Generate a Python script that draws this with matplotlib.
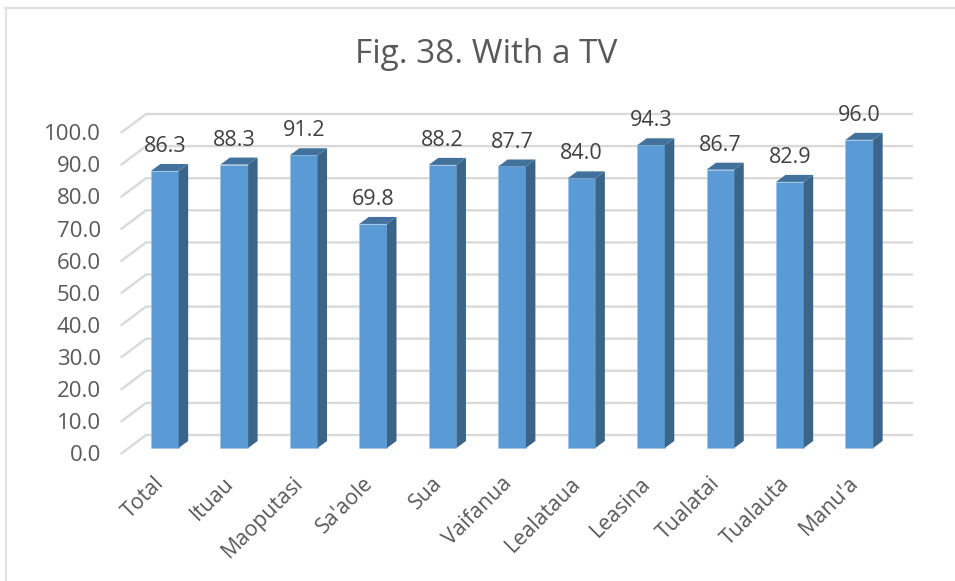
import matplotlib
matplotlib.use("Agg")
import matplotlib.pyplot as plt
from matplotlib.lines import Line2D
from matplotlib.transforms import ScaledTranslation

plt.rcParams['font.family'] = ['Open Sans', 'DejaVu Sans']

categories = ["Total", "Ituau", "Maoputasi", "Sa'aole", "Sua", "Vaifanua",
              "Lealataua", "Leasina", "Tualatai", "Tualauta", "Manu'a"]
values = [86.3, 88.3, 91.2, 69.8, 88.2, 87.7, 84.0, 94.3, 86.7, 82.9, 96.0]
y_ticks = [0, 10, 20, 30, 40, 50, 60, 70, 80, 90, 100]

W, H = 955, 581
fig = plt.figure(figsize=(W / 100, H / 100), dpi=100, facecolor='white')

# pixel geometry of the plot (stub plane: 0 at y=453, 100 at y=132)
L, R, Y0, Y100 = 121.6, 911.7, 453.3, 132.3
ax = fig.add_axes([L / W, 1 - Y0 / H, (R - L) / W, (Y0 - Y100) / H])
ax.set_facecolor('none')
SPACING = 69.45
CENTER0 = 164.8
ax.set_xlim((L - CENTER0) / SPACING, (R - CENTER0) / SPACING)
ax.set_ylim(0, 100)
pxy = (Y0 - Y100) / 100

BAR_W = 27.7 / SPACING
BASE = 5.3 / pxy          # bars stand slightly above the stub plane
DX, DY = 9.5 / SPACING, 7.0 / pxy
BACK_X, BACK_Y = 24.5 / SPACING, 18.3 / pxy
x0 = ax.get_xlim()[0]
x1 = ax.get_xlim()[1]

GRID = '#d9d9d9'
for v in y_ticks:
    ax.plot([x0, x0 + BACK_X, x1], [v, v + BACK_Y, v + BACK_Y], color=GRID,
            lw=1.7, clip_on=False, zorder=1, solid_joinstyle='miter')

FRONT, SIDE, TOP = '#5b9bd5', '#3a6488', '#41719c'
for i, v in enumerate(values):
    ax.bar(i, v, width=BAR_W, bottom=BASE, color=FRONT, zorder=3, clip_on=False,
           edgecolor='#9cc3e6', linewidth=0.4)
    xl, xr = i - BAR_W / 2, i + BAR_W / 2
    ytop = BASE + v
    ax.fill([xr, xr + DX, xr + DX, xr], [BASE, BASE + DY, ytop + DY, ytop],
            color=SIDE, lw=0, zorder=3, clip_on=False)
    ax.fill([xl, xl + DX, xr + DX, xr], [ytop, ytop + DY, ytop + DY, ytop],
            color=TOP, lw=0, zorder=3, clip_on=False)
    ax.annotate(f"{v:.1f}", (i, ytop + DY), xytext=(0, 5), textcoords='offset points',
                ha='center', va='bottom', fontsize=15.5, color='#404040', zorder=4,
                annotation_clip=False)

for s in ax.spines.values():
    s.set_visible(False)

ax.set_yticks(y_ticks)
ax.set_yticklabels([f"{v:.1f}" for v in y_ticks], fontsize=16, color='#595959')
ax.tick_params(axis='y', length=0, pad=15)

ax.set_xticks(range(len(categories)))
ax.set_xticklabels(categories, fontsize=15.4, color='#595959', rotation=45,
                   ha='right', va='top', rotation_mode='anchor')
ax.tick_params(axis='x', length=0, pad=14)
shift = ScaledTranslation(-11 / 100, 0, fig.dpi_scale_trans)
for lbl in ax.get_xticklabels():
    lbl.set_transform(lbl.get_transform() + shift)

fig.text(486 / W, 1 - 63 / H, "Fig. 38. With a TV", ha='center', va='baseline',
         fontsize=24, color='#595959')

# chart frame
fig.add_artist(Line2D([5.5 / W, 5.5 / W], [0, 1 - 7.5 / H], color='#e2e2e2', lw=1.6))
fig.add_artist(Line2D([5 / W, 1], [1 - 7.5 / H, 1 - 7.5 / H], color='#e2e2e2', lw=1.6))

fig.savefig('out.png', dpi=100, facecolor='white')
